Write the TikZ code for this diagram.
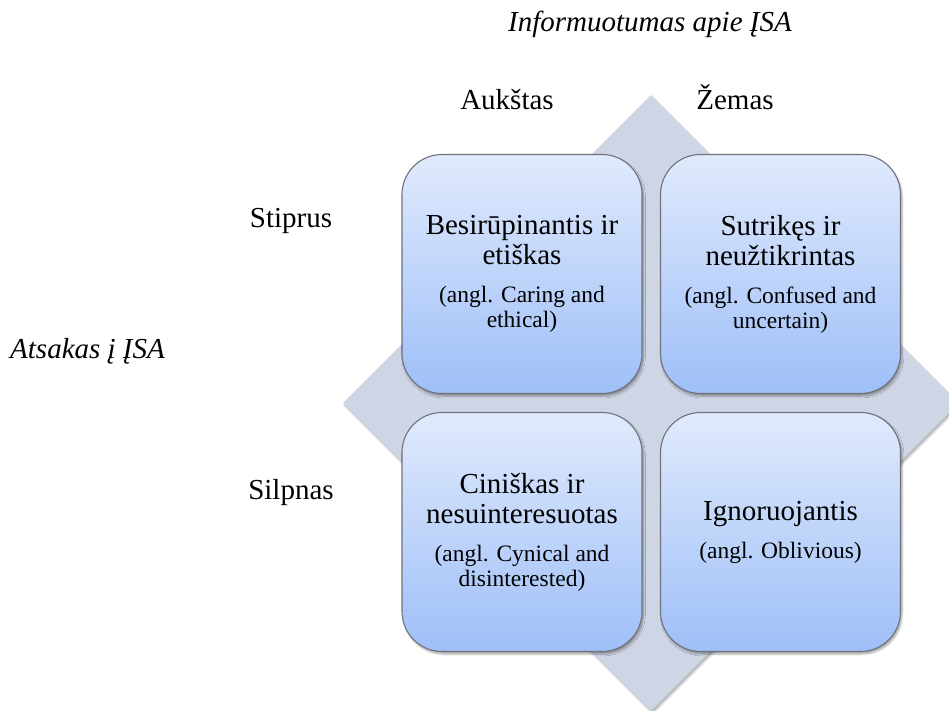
\documentclass[tikz,border=0pt]{standalone}
\usepackage{fontspec}
\setmainfont{Liberation Serif}
\usetikzlibrary{shadows.blur}

\definecolor{cellTop}{RGB}{224,234,252}
\definecolor{cellBottom}{RGB}{158,191,248}
\definecolor{cellEdge}{RGB}{112,114,124}
\definecolor{backdropFill}{RGB}{206,213,228}

\newcommand\mainsize{\fontsize{29}{31}\selectfont}
\newcommand\notesize{\fontsize{23.5}{25}\selectfont}

\begin{document}
\begin{tikzpicture}[x=1pt,y=-1pt,
  cell/.style={draw=cellEdge, line width=1.1pt, rounded corners=40pt,
    top color=cellTop, bottom color=cellBottom,
    minimum width=240pt, minimum height=239pt, inner sep=0pt,
    align=center, font=\mainsize,
    blur shadow={shadow xshift=1.5pt, shadow yshift=-2.5pt, shadow blur steps=6, shadow opacity=35}},
  axislabel/.style={font=\mainsize, anchor=base, inner sep=0pt},
  axistitle/.style={font=\mainsize\itshape, anchor=base, inner sep=0pt}]
\useasboundingbox (0,0) rectangle (949,711);

% grey diamond behind the four cells
\path[fill=backdropFill,
  blur shadow={shadow xshift=1.5pt, shadow yshift=-2.5pt, shadow blur steps=6, shadow opacity=30}]
  (343,403) -- (651,95) -- (959,403) -- (651,711) -- cycle;

% axis titles and levels
\node[axistitle] (infoTitle) at (650,32) {Informuotumas apie ĮSA};
\node[axistitle, anchor=base west] (respTitle) at (10,358) {Atsakas į ĮSA};
\node[axislabel] (high) at (507,110) {Aukštas};
\node[axislabel] (low) at (735,110) {Žemas};
\node[axislabel] (strong) at (291,228) {Stiprus};
\node[axislabel] (weak) at (291,499) {Silpnas};

% the four quadrants
\node[cell] (caring) at (522,274)
  {Besirūpinantis ir\\[-1pt]etiškas\\[7pt]{\notesize (angl. Caring and}\\[-6pt]{\notesize ethical)}};
\node[cell] (confused) at (780.5,274)
  {Sutrikęs ir\\[-1pt]neužtikrintas\\[7pt]{\notesize (angl. Confused and}\\[-6pt]{\notesize uncertain)}};
\node[cell] (cynical) at (522,532)
  {Ciniškas ir\\[-1pt]nesuinteresuotas\\[7pt]{\notesize (angl. Cynical and}\\[-6pt]{\notesize disinterested)}};
\node[cell] (oblivious) at (780.5,532)
  {Ignoruojantis\\[7pt]{\notesize (angl. Oblivious)}};
\end{tikzpicture}
\end{document}
